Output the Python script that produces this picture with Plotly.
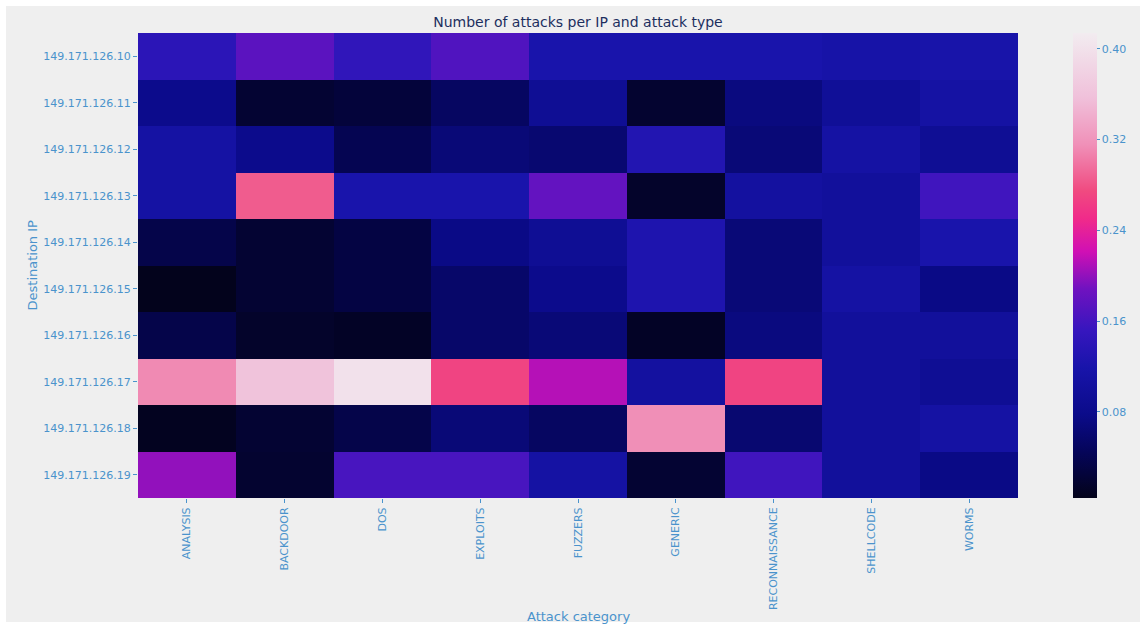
import plotly.graph_objects as go

ips = ["149.171.126.10", "149.171.126.11", "149.171.126.12", "149.171.126.13",
       "149.171.126.14", "149.171.126.15", "149.171.126.16", "149.171.126.17",
       "149.171.126.18", "149.171.126.19"]
categories = ["ANALYSIS", "BACKDOOR", "DOS", "EXPLOITS", "FUZZERS", "GENERIC",
              "RECONNAISSANCE", "SHELLCODE", "WORMS"]

row_10 = [0.140, 0.175, 0.145, 0.168, 0.120, 0.120, 0.120, 0.115, 0.118]
row_11 = [0.080, 0.020, 0.025, 0.050, 0.090, 0.018, 0.070, 0.095, 0.110]
row_12 = [0.110, 0.080, 0.040, 0.065, 0.060, 0.130, 0.065, 0.110, 0.090]
row_13 = [0.110, 0.285, 0.120, 0.120, 0.180, 0.015, 0.105, 0.100, 0.158]
row_14 = [0.035, 0.020, 0.030, 0.075, 0.090, 0.125, 0.065, 0.100, 0.120]
row_15 = [0.005, 0.020, 0.030, 0.055, 0.080, 0.125, 0.065, 0.110, 0.075]
row_16 = [0.035, 0.015, 0.012, 0.055, 0.065, 0.012, 0.070, 0.100, 0.100]
row_17 = [0.312, 0.360, 0.400, 0.270, 0.212, 0.105, 0.270, 0.100, 0.090]
row_18 = [0.008, 0.020, 0.035, 0.065, 0.050, 0.315, 0.060, 0.100, 0.110]
row_19 = [0.200, 0.018, 0.163, 0.163, 0.110, 0.020, 0.158, 0.100, 0.075]

z = [row_10, row_11, row_12, row_13, row_14, row_15, row_16, row_17, row_18, row_19]

colorbar_ticks = [0.08, 0.16, 0.24, 0.32, 0.40]
colorbar_labels = ["0.08", "0.16", "0.24", "0.32", "0.40"]
zmin, zmax = 0.004, 0.414

colorscale = [
    [0.00, "#03031a"],
    [0.10, "#05055a"],
    [0.18, "#0b0b8a"],
    [0.28, "#1814aa"],
    [0.36, "#3616be"],
    [0.45, "#7012c0"],
    [0.53, "#d010b4"],
    [0.60, "#f02a8a"],
    [0.66, "#f04a80"],
    [0.76, "#f090b8"],
    [0.86, "#f0c0da"],
    [1.00, "#f2ecf0"],
]

tick_color = "#4a93cc"
font_family = "DejaVu Sans"

L, R, T, B = 138, 1018, 33, 498
W, H = R - L, B - T

fig = go.Figure(go.Heatmap(
    z=z, x=categories, y=ips,
    colorscale=colorscale, zmin=zmin, zmax=zmax,
    colorbar=dict(
        x=(1073 - L) / W, xanchor="left", xpad=0, y=0.5, yanchor="middle",
        ypad=0, len=1.0, lenmode="fraction", thickness=24, thicknessmode="pixels",
        outlinewidth=0, tickvals=colorbar_ticks, ticktext=colorbar_labels,
        ticks="outside", ticklen=3, tickcolor=tick_color,
        tickfont=dict(family=font_family, size=11, color=tick_color),
    ),
))

fig.update_layout(
    width=1146, height=628,
    margin=dict(l=L, r=1146 - R, t=T, b=628 - B, autoexpand=False),
    paper_bgcolor="white",
    plot_bgcolor="#efefef",
    title=dict(text="Number of attacks per IP and attack type", x=0.5, xref="paper",
               y=1 - 22 / 628, yanchor="middle",
               font=dict(family=font_family, size=14, color="#1c2e5e")),
    xaxis=dict(tickangle=-90, ticks="outside", ticklen=4, tickcolor=tick_color,
               tickfont=dict(family=font_family, size=11, color=tick_color),
               showgrid=False, zeroline=False, showline=False),
    yaxis=dict(autorange="reversed", ticks="outside", ticklen=4, tickcolor=tick_color,
               tickfont=dict(family=font_family, size=11, color=tick_color),
               showgrid=False, zeroline=False, showline=False),
    shapes=[dict(type="rect", xref="paper", yref="paper", layer="below",
                 x0=(6 - L) / W, x1=(1140 - L) / W,
                 y0=(B - 622) / H, y1=(B - 6) / H,
                 fillcolor="#efefef", line=dict(width=0))],
    annotations=[
        dict(text="Attack category", xref="paper", yref="paper", x=0.5,
             y=(B - 616) / H, showarrow=False, yanchor="middle",
             font=dict(family=font_family, size=13, color=tick_color)),
        dict(text="Destination IP", xref="paper", yref="paper",
             x=(32 - L) / W, y=0.5, showarrow=False, textangle=-90,
             xanchor="center", yanchor="middle",
             font=dict(family=font_family, size=13, color=tick_color)),
    ],
)

fig.write_html("out.html")
